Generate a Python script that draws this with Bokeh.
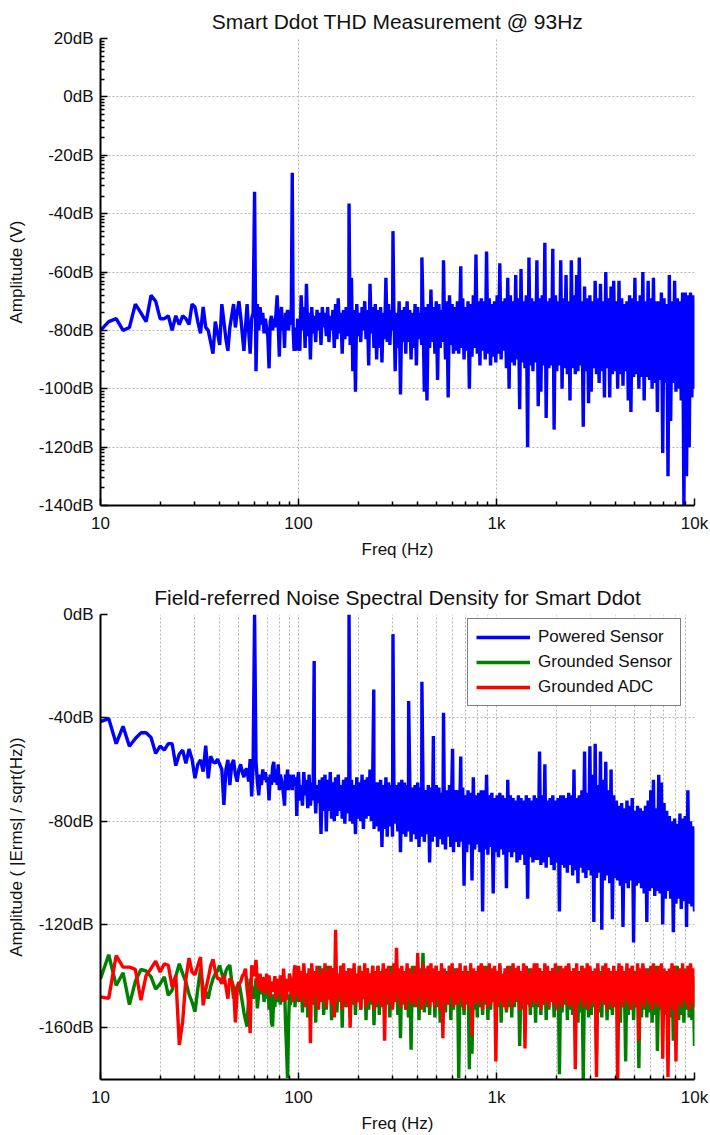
import numpy as np
from bokeh.plotting import figure
from bokeh.models import Range1d, FixedTicker, CustomJSTickFormatter, Legend, LegendItem
from bokeh.layouts import column
from bokeh.embed import file_html
from bokeh.resources import INLINE

FONT = "Liberation Sans"
BLUE, GREEN, RED = "#0000ff", "#008000", "#ff0000"

# ---------------- data ----------------
# 1 Hz FFT bins below 100 Hz; above 100 Hz the spectrum is given as
# max/min pairs per log-spaced bin (150 bins -> 300 points, max first).
freq_lo = np.arange(10, 100)
freq_hi = np.geomspace(100, 10000, 300)

# --- chart 1: THD measurement (dB V) ---
thd_lo = [
    -80, -77, -76, -80, -79, -71, -74, -77, -68, -70,
    -76, -76, -75, -80, -75, -78, -75, -76, -78, -71,
    -72, -77, -81, -72, -79, -80, -84, -88, -77, -81,
    -85, -71, -77, -83, -87, -79, -75, -71, -79, -74,
    -70, -75, -81, -87, -79, -71, -80, -88, -76, -74,
    -32.5, -94, -71, -80, -72, -78, -74, -81, -76, -79,
    -82, -93, -77, -75, -80, -76, -79, -74, -68, -78,
    -89, -76, -72, -80, -77, -86, -74, -79, -73, -80,
    -76, -78, -72, -26, -80, -87, -84, -79, -87, -76,
]
thd_hi_max = [
    -77, -68, -72, -64, -74, -72, -75, -73, -74, -72,
    -74, -72, -75, -73, -71, -69, -74, -73, -72, -75,
    -62, -73, -71, -74, -72, -70, -73, -64, -72, -71,
    -73, -72, -74, -62, -71, -73, -72, -74, -70, -73,
    -72, -70, -73, -74, -71, -72, -74, -73, -72, -71,
    -66, -72, -70, -71, -73, -72, -70, -68, -71, -72,
    -70, -71, -69, -72, -70, -71, -68, -54, -70, -69,
    -70, -53, -69, -71, -70, -68, -57, -70, -69, -62,
    -68, -70, -61, -69, -59, -70, -68, -55, -69, -70,
    -56, -69, -68, -50, -70, -69, -52, -68, -70, -56,
    -69, -61, -70, -56, -68, -61, -55, -70, -65, -69,
    -68, -70, -63, -69, -64, -70, -60, -69, -65, -63,
    -70, -63, -69, -71, -70, -68, -69, -62, -70, -68,
    -60, -70, -63, -69, -62, -70, -70, -67, -69, -71,
    -61, -70, -63, -69, -70, -67, -67, -68, -67, -68,
]
thd_hi_min = [
    -87, -80, -86, -82, -90, -81, -84, -80, -85, -79,
    -82, -84, -80, -86, -83, -81, -88, -83, -82, -85,
    -94, -101, -82, -84, -80, -83, -92, -81, -86, -90,
    -86, -91, -83, -84, -85, -80, -94, -86, -102, -84,
    -88, -84, -90, -86, -92, -83, -85, -101, -104, -86,
    -84, -88, -97, -86, -84, -90, -103, -85, -88, -87,
    -88, -86, -90, -87, -100, -89, -86, -88, -92, -87,
    -90, -88, -92, -89, -91, -88, -90, -87, -93, -100,
    -91, -92, -90, -107, -91, -93, -120, -92, -94, -91,
    -106, -101, -92, -110, -93, -92, -114, -94, -92, -100,
    -93, -95, -104, -93, -95, -94, -92, -113, -94, -105,
    -101, -93, -95, -98, -94, -103, -93, -103, -95, -94,
    -100, -95, -99, -94, -104, -108, -96, -95, -100, -96,
    -104, -96, -97, -100, -98, -108, -97, -122, -98, -130,
    -111, -98, -101, -100, -104, -140, -130, -120, -103, -100,
]
thd_peak_freq = [180, 300, 420, 540, 660]
thd_peak_db = [-36.5, -46, -55, -56, -58]

# --- chart 2: noise spectral density ---
pow_lo = [
    -41.5, -40.3, -50, -43.3, -51, -48, -45.8, -45.8, -47.6, -53.8,
    -50.9, -52.5, -50, -50, -58.5, -54, -52.5, -57.6, -52.1, -56,
    -63.4, -58, -56.3, -60.8, -50.8, -63.4, -54.8, -57, -57.5, -56,
    -58, -60, -73.7, -60, -56.3, -66, -58, -56.3, -62, -64.7,
    -60, -58, -61, -63, -60, -60, -64.7, -56, -70.4, -58,
    0, -57, -65, -70, -62, -66, -60, -64, -61, -65,
    -63, -72, -62, -66, -59, -57, -65, -60, -66, -58,
    -68, -62, -64, -66, -70, -74, -62, -66, -60, -68,
    -62, -66, -63, -68, -62, -65, -66, -63, -78, -64,
]
pow_hi_max = [
    -61, -66, -61, -64, -62, -65, -63, -66, -64, -63,
    -62, -64, -61, -65, -63, -62, -66, -64, -63, -65,
    -64, -66, -63, -65, -62, -64, -63, -60, -64, -65,
    -65, -64, -66, -63, -65, -66, -64, -66, -65, -64,
    -65, -66, -64, -67, -66, -65, -67, -66, -68, -66,
    -67, -68, -66, -67, -69, -67, -68, -66, -60, -68,
    -68, -69, -67, -70, -68, -69, -63, -70, -69, -68,
    -68, -62, -70, -69, -71, -70, -69, -70, -71, -64,
    -70, -71, -72, -70, -71, -72, -70, -71, -72, -70,
    -71, -53, -70, -58, -72, -71, -70, -72, -71, -70,
    -70, -71, -69, -70, -60, -71, -70, -68, -53, -69,
    -51, -62, -50, -66, -53, -64, -57, -68, -60, -70,
    -72, -74, -73, -75, -72, -74, -71, -76, -74, -75,
    -76, -74, -72, -68, -64, -75, -62, -65, -73, -76,
    -78, -80, -79, -81, -77, -79, -78, -68, -80, -82,
]
pow_hi_min = [
    -72, -74, -70, -75, -74, -72, -77, -73, -85, -76,
    -84, -76, -79, -80, -78, -76, -79, -81, -77, -80,
    -81, -85, -79, -80, -83, -79, -78, -80, -83, -82,
    -84, -90, -83, -86, -82, -86, -81, -84, -92, -85,
    -86, -84, -88, -85, -87, -90, -86, -88, -85, -96,
    -88, -86, -90, -87, -89, -91, -86, -90, -92, -88,
    -90, -88, -105, -92, -89, -103, -91, -89, -92, -115,
    -91, -93, -90, -108, -92, -94, -91, -93, -106, -92,
    -94, -92, -96, -95, -93, -97, -110, -94, -96, -95,
    -95, -97, -96, -98, -94, -97, -99, -96, -115, -97,
    -98, -100, -97, -101, -99, -104, -98, -100, -102, -99,
    -101, -119, -102, -100, -122, -103, -101, -104, -118, -102,
    -103, -105, -121, -104, -106, -103, -127, -105, -104, -106,
    -108, -119, -107, -106, -109, -107, -108, -120, -110, -107,
    -110, -123, -112, -110, -114, -111, -121, -112, -113, -115,
]
pow_peak_freq = [120, 180, 240, 300, 360, 420, 480, 540, 600, 660]
pow_peak_db = [-18, 0, -29, -7.6, -33.5, -26, -47, -38, -52, -55]

gs_lo = [
    -141, -131.7, -143.6, -138.7, -151, -142, -137.4, -138, -140.3, -145,
    -143, -140.3, -147.4, -145.4, -140, -135.2, -139, -142.3, -147, -150,
    -153.8, -145, -137.1, -144.8, -146, -148.7, -144, -141, -139, -138,
    -135.8, -139, -141.6, -138, -136.5, -135.8, -142, -148.7, -146, -144,
    -142.3, -146, -150, -154, -157, -159.5, -148, -141, -144, -148.7,
    -147, -141, -152.5, -146, -140, -147, -142.3, -150, -144, -148.7,
    -141, -153, -146, -158, -159.5, -147, -152, -142, -143.6, -150,
    -145, -151, -142, -149, -148.7, -143, -158, -168, -179.4, -160,
    -147, -151.2, -144, -150, -146.1, -141, -152, -145, -150, -143,
]
gs_hi_max = [
    -137, -140, -136, -139, -141, -137, -138, -140, -136, -139,
    -138, -136, -140, -137, -139, -141, -136, -138, -140, -137,
    -139, -137, -141, -136, -138, -140, -137, -139, -136, -140,
    -136, -139, -137, -140, -138, -136, -141, -137, -139, -138,
    -140, -137, -139, -136, -140, -138, -137, -131, -139, -136,
    -138, -140, -136, -139, -137, -141, -138, -136, -140, -137,
    -137, -139, -140, -136, -138, -137, -141, -139, -136, -138,
    -139, -136, -138, -140, -137, -139, -136, -140, -138, -137,
    -136, -140, -137, -138, -141, -136, -139, -137, -140, -138,
    -138, -137, -139, -136, -140, -138, -137, -141, -136, -139,
    -140, -138, -136, -139, -137, -140, -138, -136, -139, -137,
    -137, -139, -141, -137, -138, -136, -140, -137, -139, -138,
    -139, -136, -138, -140, -137, -139, -136, -138, -140, -137,
    -136, -140, -137, -139, -138, -136, -141, -137, -139, -138,
    -138, -137, -139, -136, -140, -138, -137, -139, -136, -140,
]
gs_hi_min = [
    -150, -154, -148, -156, -151, -149, -158, -152, -150, -155,
    -153, -149, -157, -151, -154, -150, -160, -152, -149, -156,
    -151, -155, -150, -153, -149, -157, -153, -151, -159, -152,
    -155, -150, -153, -151, -156, -152, -150, -155, -164, -151,
    -153, -156, -168.5, -152, -150, -157, -151, -154, -152, -155,
    -150, -156, -152, -158, -151, -154, -150, -157, -153, -151,
    -179.4, -152, -155, -151, -176, -170, -153, -156, -152, -155,
    -151, -157, -153, -150, -156, -152, -158, -151, -154, -152,
    -156, -152, -150, -167, -153, -157, -151, -155, -152, -158,
    -152, -155, -151, -157, -153, -150, -156, -152, -178, -154,
    -151, -157, -153, -155, -152, -158, -154, -180, -153, -156,
    -155, -152, -170, -154, -156, -151, -157, -153, -155, -152,
    -154, -158, -152, -173, -155, -153, -157, -152, -175.6, -156,
    -153, -156, -154, -158, -155, -169, -153, -157, -155, -154,
    -156, -165, -154, -157, -155, -158, -153, -156, -157, -167,
]

gadc_lo = [
    -148, -148.6, -132, -136.5, -136.5, -137.4, -149.3, -139.7, -137, -134.2,
    -138.4, -135.2, -135.8, -144.2, -139.7, -166.6, -157.6, -141, -133, -138.4,
    -139.4, -136, -132.6, -151.3, -145, -140.9, -136, -133.5, -138, -140.9,
    -141, -143, -139.7, -144, -148.7, -140.9, -142, -144.2, -157.9, -146,
    -143, -142.3, -140, -139, -137.1, -145, -150, -162.1, -135.8, -138,
    -140, -133.7, -143, -144.8, -139, -146, -141, -140.9, -147, -139,
    -145, -139.7, -148, -142, -146, -143.6, -140, -149, -146.1, -141,
    -147, -139.7, -145, -150, -137.1, -143, -149, -148.7, -141, -146,
    -139, -140.9, -147, -142, -150, -138, -135.8, -144, -148, -141,
]
gadc_hi_max = [
    -136, -138, -135, -139, -137, -135, -138, -136, -139, -137,
    -135, -138, -136, -137, -122, -139, -136, -135, -138, -137,
    -137, -135, -139, -136, -138, -135, -137, -139, -136, -138,
    -136, -138, -135, -137, -136, -139, -135, -129, -137, -136,
    -138, -135, -137, -139, -136, -131, -138, -135, -137, -136,
    -135, -137, -136, -138, -135, -137, -139, -136, -135, -138,
    -137, -135, -138, -136, -139, -135, -137, -138, -136, -135,
    -136, -138, -135, -137, -136, -138, -135, -139, -137, -136,
    -138, -135, -137, -136, -138, -135, -136, -139, -137, -135,
    -135, -137, -138, -135, -136, -138, -137, -135, -139, -136,
    -137, -136, -135, -138, -137, -135, -139, -136, -137, -135,
    -136, -138, -137, -135, -139, -136, -135, -137, -138, -136,
    -138, -135, -136, -138, -135, -137, -136, -139, -135, -137,
    -135, -137, -139, -136, -135, -138, -136, -135, -137, -138,
    -137, -135, -136, -138, -137, -135, -138, -136, -135, -137,
]
gadc_hi_min = [
    -150, -148, -152, -149, -166, -151, -148, -153, -150, -149,
    -152, -149, -151, -156, -150, -148, -153, -150, -152, -160,
    -149, -151, -150, -153, -148, -152, -150, -149, -153, -151,
    -150, -152, -165, -149, -151, -153, -150, -148, -152, -150,
    -153, -149, -151, -150, -152, -148, -153, -151, -149, -152,
    -150, -152, -149, -153, -164, -150, -151, -148, -152, -150,
    -151, -149, -153, -150, -152, -163, -150, -151, -149, -153,
    -150, -152, -151, -149, -173, -151, -150, -152, -153, -149,
    -152, -150, -149, -153, -151, -168, -150, -152, -149, -151,
    -150, -153, -151, -149, -152, -150, -151, -153, -150, -152,
    -149, -151, -152, -150, -176, -151, -149, -152, -150, -153,
    -151, -150, -179, -152, -149, -151, -153, -150, -152, -151,
    -180, -150, -152, -149, -151, -153, -150, -152, -165, -150,
    -152, -149, -151, -153, -150, -152, -151, -172, -150, -179,
    -151, -153, -173, -150, -152, -149, -151, -153, -150, -152,
]

series_names = ["Powered Sensor", "Grounded Sensor", "Grounded ADC"]

x_ticks = [10, 100, 1000, 10000]
x_minor = [m * d for d in (10, 100, 1000) for m in range(2, 10)]
thd_y_ticks = list(range(-140, 21, 20))
thd_y_minor = [t - 20 * (1 - np.log10(k)) for t in thd_y_ticks for k in range(2, 10)
               if t - 20 * (1 - np.log10(k)) > -140]
nsd_y_ticks = [-160, -120, -80, -40, 0]


def series(lo, hmax, hmin, pf=(), pv=()):
    hi = np.empty(len(freq_hi))
    hi[0::2] = hmax
    hi[1::2] = hmin
    f = np.concatenate([freq_lo.astype(float), freq_hi, np.asarray(pf, float)])
    v = np.concatenate([np.asarray(lo, float), hi, np.asarray(pv, float)])
    o = np.argsort(f, kind="stable")
    return f[o], v[o]


def make_fig(h, top, bottom, title, ylabel, y0, y1, yticks, yminor, minor_grid):
    p = figure(width=710, height=h, x_axis_type="log",
               x_range=Range1d(10, 10000), y_range=Range1d(y0, y1),
               output_backend="svg", toolbar_location=None,
               min_border_left=100, min_border_right=16,
               min_border_top=top, min_border_bottom=bottom,
               title=title, background_fill_color="white", border_fill_color="white")
    p.outline_line_color = None
    t = p.title
    t.align = "center"
    t.text_font = FONT
    t.text_font_size = "21px"
    t.text_font_style = "normal"
    t.text_color = "#111111"
    t.standoff = 12

    xt = FixedTicker(ticks=x_ticks, minor_ticks=x_minor)
    yt = FixedTicker(ticks=yticks, minor_ticks=yminor)
    p.xaxis.ticker = xt
    p.yaxis.ticker = yt
    p.xgrid.ticker = xt
    p.ygrid.ticker = yt
    p.xaxis.formatter = CustomJSTickFormatter(
        code="return tick >= 1000 ? (tick / 1000) + 'k' : String(tick);")
    p.yaxis.formatter = CustomJSTickFormatter(code="return tick + 'dB';")
    for ax in (p.xaxis, p.yaxis):
        ax.axis_line_width = 2
        ax.axis_line_color = "black"
        ax.major_tick_in = 7
        ax.major_tick_out = 0
        ax.minor_tick_in = 4
        ax.minor_tick_out = 0
        ax.major_tick_line_width = 1.5
        ax.minor_tick_line_width = 1.5
        ax.major_tick_line_color = "black"
        ax.minor_tick_line_color = "black"
        ax.major_label_text_font = FONT
        ax.major_label_text_font_size = "17px"
        ax.major_label_text_color = "#111111"
        ax.axis_label_text_font = FONT
        ax.axis_label_text_font_size = "17px"
        ax.axis_label_text_font_style = "normal"
        ax.axis_label_text_color = "#111111"
    p.xaxis.axis_label = "Freq (Hz)"
    p.yaxis.axis_label = ylabel
    p.xaxis.major_label_standoff = 8
    p.xaxis.axis_label_standoff = 4
    p.yaxis.major_label_standoff = 7
    p.yaxis.axis_label_standoff = 10

    for g in (p.xgrid, p.ygrid):
        g.grid_line_color = "#b4b4b4"
        g.grid_line_dash = "2 2"
        g.grid_line_width = 1
    if minor_grid:
        p.xgrid.minor_grid_line_color = "#b4b4b4"
        p.xgrid.minor_grid_line_dash = "2 2"
        p.xgrid.minor_grid_line_width = 1
    return p


LW = 3.4

# ---------------- chart 1 ----------------
p1 = make_fig(570, 38, 65, "Smart Ddot THD Measurement @ 93Hz", "Amplitude (V)",
              -140, 20, thd_y_ticks, thd_y_minor, False)
f, v = series(thd_lo, thd_hi_max, thd_hi_min, thd_peak_freq, thd_peak_db)
p1.line(f, v, line_color=BLUE, line_width=LW)

# ---------------- chart 2 ----------------
p2 = make_fig(565, 44, 53, "Field-referred Noise Spectral Density for Smart Ddot",
              "Amplitude ( |Erms| / sqrt(Hz))", -180, 0, nsd_y_ticks, [], True)
f, v = series(pow_lo, pow_hi_max, pow_hi_min, pow_peak_freq, pow_peak_db)
r1 = p2.line(f, v, line_color=BLUE, line_width=LW)
f, v = series(gs_lo, gs_hi_max, gs_hi_min)
r2 = p2.line(f, v, line_color=GREEN, line_width=LW)
f, v = series(gadc_lo, gadc_hi_max, gadc_hi_min)
r3 = p2.line(f, v, line_color=RED, line_width=LW)

legend = Legend(items=[LegendItem(label=series_names[0], renderers=[r1]),
                       LegendItem(label=series_names[1], renderers=[r2]),
                       LegendItem(label=series_names[2], renderers=[r3])],
                location=(367, 373))
legend.label_text_font = FONT
legend.label_text_font_size = "17px"
legend.label_text_color = "#111111"
legend.label_height = 20
legend.glyph_height = 20
legend.glyph_width = 54
legend.label_standoff = 8
legend.spacing = 5
legend.padding = 8
legend.margin = 0
legend.border_line_color = "black"
legend.border_line_width = 1.5
legend.background_fill_color = "white"
legend.background_fill_alpha = 1.0
p2.add_layout(legend)

layout = column(p1, p2, spacing=0)
open("out.html", "w").write(file_html(layout, INLINE))
